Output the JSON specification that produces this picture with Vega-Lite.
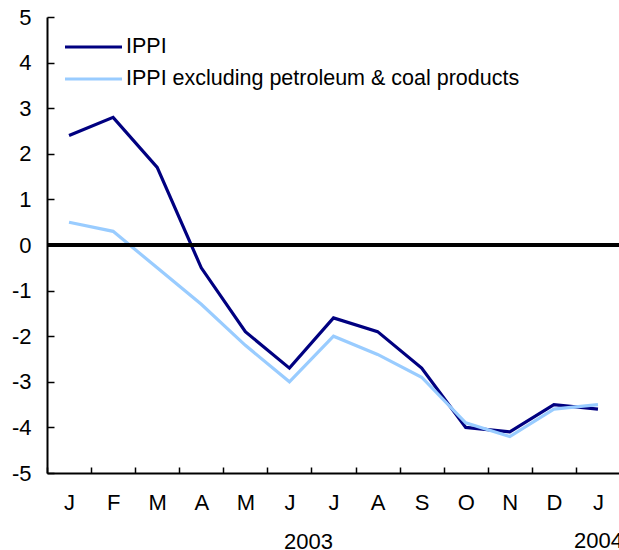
{
  "$schema": "https://vega.github.io/schema/vega-lite/v6.json",
  "autosize": {"type": "none"},
  "padding": {"left": 47, "top": 17, "right": 0, "bottom": 77},
  "width": 573,
  "height": 456,
  "config": {
    "font": "Liberation Sans",
    "view": {"stroke": null},
    "axis": {"labelFont": "Liberation Sans", "labelFontSize": 22, "labelColor": "#000", "domainColor": "#000", "tickColor": "#000", "grid": false}
  },
  "data": {
    "values": [
      {"month": "Jan03", "series": "IPPI", "value": 2.4},
      {"month": "Feb03", "series": "IPPI", "value": 2.8},
      {"month": "Mar03", "series": "IPPI", "value": 1.7},
      {"month": "Apr03", "series": "IPPI", "value": -0.5},
      {"month": "May03", "series": "IPPI", "value": -1.9},
      {"month": "Jun03", "series": "IPPI", "value": -2.7},
      {"month": "Jul03", "series": "IPPI", "value": -1.6},
      {"month": "Aug03", "series": "IPPI", "value": -1.9},
      {"month": "Sep03", "series": "IPPI", "value": -2.7},
      {"month": "Oct03", "series": "IPPI", "value": -4.0},
      {"month": "Nov03", "series": "IPPI", "value": -4.1},
      {"month": "Dec03", "series": "IPPI", "value": -3.5},
      {"month": "Jan04", "series": "IPPI", "value": -3.6},
      {"month": "Jan03", "series": "IPPI excluding petroleum & coal products", "value": 0.5},
      {"month": "Feb03", "series": "IPPI excluding petroleum & coal products", "value": 0.3},
      {"month": "Mar03", "series": "IPPI excluding petroleum & coal products", "value": -0.5},
      {"month": "Apr03", "series": "IPPI excluding petroleum & coal products", "value": -1.3},
      {"month": "May03", "series": "IPPI excluding petroleum & coal products", "value": -2.2},
      {"month": "Jun03", "series": "IPPI excluding petroleum & coal products", "value": -3.0},
      {"month": "Jul03", "series": "IPPI excluding petroleum & coal products", "value": -2.0},
      {"month": "Aug03", "series": "IPPI excluding petroleum & coal products", "value": -2.4},
      {"month": "Sep03", "series": "IPPI excluding petroleum & coal products", "value": -2.9},
      {"month": "Oct03", "series": "IPPI excluding petroleum & coal products", "value": -3.9},
      {"month": "Nov03", "series": "IPPI excluding petroleum & coal products", "value": -4.2},
      {"month": "Dec03", "series": "IPPI excluding petroleum & coal products", "value": -3.6},
      {"month": "Jan04", "series": "IPPI excluding petroleum & coal products", "value": -3.5}
    ]
  },
  "layer": [
    {
      "mark": {"type": "line", "strokeWidth": 3.2},
      "encoding": {
        "x": {
          "field": "month", "type": "ordinal", "bandPosition": 0.5,
          "sort": ["Jan03","Feb03","Mar03","Apr03","May03","Jun03","Jul03","Aug03","Sep03","Oct03","Nov03","Dec03","Jan04"],
          "scale": {"type": "band", "paddingInner": 0, "paddingOuter": 0},
          "axis": {
            "labelAngle": 0, "tickBand": "extent", "tickSize": -6, "tickWidth": 1.5, "domainWidth": 2,
            "labelPadding": 35, "labelBaseline": "middle", "labelLineHeight": 38,
            "labelExpr": "!isString(datum.value) || datum.value == 'undefined' ? '' : datum.value == 'Jan04' ? ['J', '2004'] : substring(datum.value, 0, 1)",
            "title": "2003", "titleFont": "Liberation Sans", "titleFontSize": 22, "titleFontWeight": "normal", "titleColor": "#000",
            "titleX": 261, "titleY": 75, "titleAlign": "center", "titleBaseline": "alphabetic"
          }
        },
        "y": {
          "field": "value", "type": "quantitative",
          "scale": {"domain": [-5, 5], "nice": false},
          "axis": {"values": [-5,-4,-3,-2,-1,0,1,2,3,4,5], "labelExpr": "'' + datum.value", "tickSize": -7, "tickWidth": 1.5, "domainWidth": 2, "labelPadding": 23, "title": null}
        },
        "color": {
          "field": "series", "type": "nominal",
          "scale": {"domain": ["IPPI", "IPPI excluding petroleum & coal products"], "range": ["#000080", "#99CCFF"]},
          "legend": {
            "title": null, "orient": "none", "legendX": 16, "legendY": 20,
            "symbolType": "stroke", "symbolSize": 3249, "symbolStrokeWidth": 3.2,
            "clipHeight": 20,
            "labelFont": "Liberation Sans", "labelFontSize": 21.5, "labelColor": "#000", "labelOffset": 2, "labelLimit": 0, "rowPadding": 10
          }
        }
      }
    },
    {
      "mark": {"type": "rule", "color": "#000", "strokeWidth": 3},
      "encoding": {"y": {"datum": 0}}
    }
  ]
}
